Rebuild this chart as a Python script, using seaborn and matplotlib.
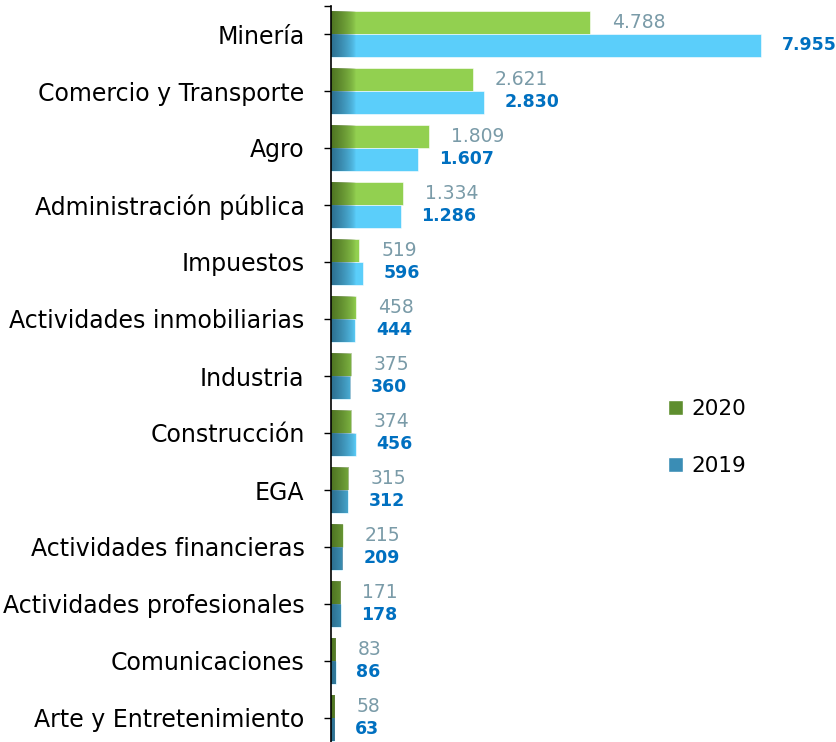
import numpy as np
import pandas as pd
import matplotlib
matplotlib.use("Agg")
import matplotlib.pyplot as plt
import matplotlib.colors as mcolors
from matplotlib.patches import Patch
import seaborn as sns

sectores = ["Minería", "Comercio y Transporte", "Agro", "Administración pública",
            "Impuestos", "Actividades inmobiliarias", "Industria", "Construcción",
            "EGA", "Actividades financieras", "Actividades profesionales",
            "Comunicaciones", "Arte y Entretenimiento"]
valores_2020 = [4788, 2621, 1809, 1334, 519, 458, 375, 374, 315, 215, 171, 83, 58]
valores_2019 = [7955, 2830, 1607, 1286, 596, 444, 360, 456, 312, 209, 178, 86, 63]
anios = ["2020", "2019"]

colores = {"2020": "#92D050", "2019": "#5BCEFA"}
oscuros = {"2020": "#4E7322", "2019": "#2C6E8E"}
leyenda_col = {"2020": "#5E8E2E", "2019": "#3A8DB5"}

df = pd.DataFrame({
    "sector": sectores * 2,
    "valor": valores_2020 + valores_2019,
    "anio": ["2020"] * len(sectores) + ["2019"] * len(sectores),
})

sns.set_style("white")
plt.rcParams["font.family"] = ["DejaVu Sans"]
plt.rcParams["text.color"] = "black"
plt.rcParams["ytick.color"] = "black"

W, H = 837, 742
fig = plt.figure(figsize=(W / 100, H / 100), dpi=100)
ax = fig.add_axes([331 / W, -4.5 / H, (W - 331) / W, 741 / H])

sns.barplot(data=df, y="sector", x="valor", hue="anio", hue_order=anios,
            order=sectores, palette=colores, saturation=1, orient="h", width=0.8,
            dodge=True, ax=ax, legend=False, edgecolor="white", linewidth=0.4)

xmax = (W - 331) * 7955 / 430
ax.set_xlim(0, xmax)
ax.set_ylim(12.5, -0.5)

# dark shading on the left end of every bar
grad_w = 450
for anio, cont in zip(anios, ax.containers):
    base = mcolors.to_rgb(oscuros[anio])
    g = np.zeros((1, 64, 4))
    g[0, :, :3] = base
    g[0, :, 3] = np.linspace(1, 0, 64) ** 0.7
    for p in cont:
        y0, h = p.get_y(), p.get_height()
        im = ax.imshow(g, extent=(0, grad_w, y0 + h, y0), aspect="auto",
                       interpolation="bilinear", zorder=p.get_zorder() + 0.1)
        im.set_clip_path(p)
ax.set_xlim(0, xmax)
ax.set_ylim(12.5, -0.5)

fmt = lambda v: f"{v:,}".replace(",", ".")
ax.bar_label(ax.containers[0], labels=[fmt(v) for v in valores_2020],
             padding=16, color="#7A9BA8", fontsize=13.5)
ax.bar_label(ax.containers[1], labels=[fmt(v) for v in valores_2019],
             padding=15, color="#0070C0", fontsize=12.5, fontweight="bold")

for s in ["top", "right", "bottom"]:
    ax.spines[s].set_visible(False)
ax.spines["left"].set_color("black")
ax.spines["left"].set_linewidth(1.2)
ax.set_xticks([])
ax.set_xlabel("")
ax.set_ylabel("")
ax.set_yticks([-0.5], minor=True)
ax.tick_params(axis="y", which="both", left=True, length=5, width=1,
               color="black", labelcolor="black", pad=14, labelsize=17)

handles = [Patch(facecolor=leyenda_col[a], label=a) for a in anios]
fig.legend(handles=handles, loc="center left", bbox_to_anchor=(668 / W, 1 - 437.5 / H),
           frameon=False, fontsize=15.5, handlelength=0.7, handleheight=0.7,
           handletextpad=0.4, labelspacing=1.7, borderpad=0, borderaxespad=0,
           labelcolor="black")

fig.savefig("out.png", dpi=100)
